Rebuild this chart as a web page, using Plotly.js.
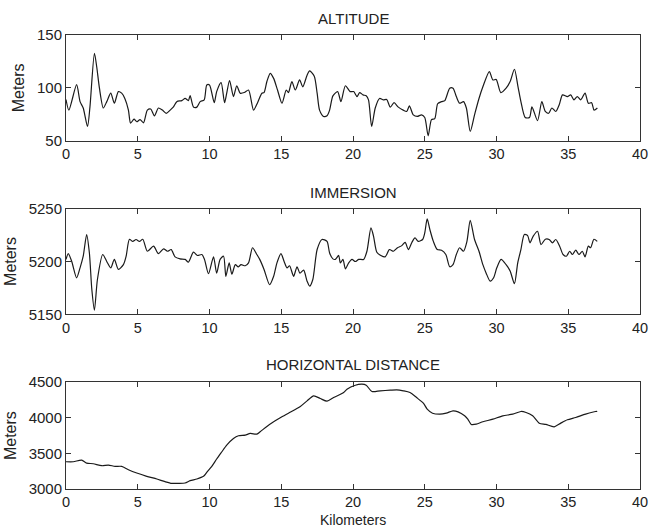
<!DOCTYPE html>
<html>
<head>
<meta charset="utf-8">
<script src="https://cdn.plot.ly/plotly-3.0.1.min.js"></script>
<style>html,body{margin:0;padding:0;background:#fff;}#chart{width:651px;height:527px;}</style>
</head>
<body>
<div id="chart"></div>
<script>
// ALTITUDE (km, meters)
const altKm = [0,0.2,0.74,0.98,1.2,1.5,1.67,1.98,2.14,2.33,2.6,2.84,3.12,3.37,3.65,3.88,4.1,4.35,4.5,4.74,4.93,5.16,5.4,5.67,5.9,6.16,6.44,6.72,6.98,7.26,7.49,7.72,8.07,8.3,8.53,8.65,8.88,9.12,9.35,9.63,9.81,10.0,10.33,10.5,10.81,11.05,11.2,11.4,11.67,11.9,12.14,12.42,12.72,13.07,13.35,13.65,13.8,14.0,14.23,14.47,14.74,15.05,15.35,15.5,15.74,15.98,16.28,16.5,16.8,16.98,17.3,17.5,17.67,17.95,18.19,18.37,18.6,18.93,19.16,19.47,19.8,20.05,20.28,20.46,20.7,20.92,21.08,21.3,21.55,21.85,22.12,22.35,22.6,22.86,23.16,23.5,23.74,23.93,24.2,24.48,24.78,25.0,25.24,25.47,25.7,25.9,26.17,26.4,26.74,26.97,27.2,27.43,27.7,27.9,28.17,28.47,28.78,29.05,29.5,29.75,29.98,30.3,30.67,30.95,31.25,31.5,31.7,32.0,32.3,32.47,32.86,33.16,33.4,33.63,33.86,34.13,34.37,34.6,34.94,35.17,35.4,35.63,35.87,36.17,36.4,36.63,36.8,37.03];
const altitude = [89,79,103,87,81,63.5,82,132.7,120,99.7,81,87,95,85.5,96.5,95,90,79,66.7,70.4,68,70,67,79,80,73.6,81,79,76,79,82,87,88,90,88,92.8,82,81.8,87,88.7,102.8,102.8,86,96.5,105,86,95,107,91.8,102,95,95.6,98,79,86,95,95.6,106,113.8,109,98,85.5,98,95.6,106,98,107.5,101,112,116,111,95,79,73,73.6,79,92.5,96.5,87,102,96.5,96.5,91.8,95.6,93.4,92.5,88.7,63.5,81,90,88.7,89,81.8,86,81.8,79,77.7,83,74.5,73,74.5,72,54.7,70,71,85,87,88,99.7,99.7,91.8,85.5,87,81,58.8,74.5,90,101,115.4,107.5,108,95.6,99.7,106,117.6,101,87,72,72,82,69,87,77.7,76,81,77.7,84,93.4,91.8,93.4,88.7,91.8,88.7,95,85.5,86,79,81];

// IMMERSION (km, meters)
const immKm = [0,0.16,0.4,0.74,0.98,1.2,1.44,1.63,1.8,1.98,2.19,2.56,2.84,3.12,3.37,3.65,4.0,4.19,4.42,4.65,4.88,5.12,5.35,5.67,6.1,6.44,6.8,7.07,7.33,7.6,7.95,8.3,8.53,8.88,9.16,9.47,9.65,9.93,10.28,10.5,10.74,10.98,11.14,11.37,11.56,11.8,12.0,12.2,12.49,12.72,13.0,13.3,13.5,13.8,14.19,14.47,14.7,14.98,15.2,15.4,15.58,15.86,16.1,16.3,16.56,16.8,16.98,17.2,17.5,17.84,18.19,18.37,18.6,18.77,19.0,19.12,19.3,19.47,19.7,19.93,20.16,20.4,20.74,20.97,21.25,21.43,21.66,21.94,22.24,22.54,22.82,23.1,23.4,23.63,23.86,24.1,24.32,24.55,24.85,25.0,25.17,25.36,25.6,25.87,26.17,26.47,26.74,26.97,27.2,27.43,27.7,27.94,28.17,28.47,28.78,29.05,29.28,29.56,29.8,30.02,30.32,30.67,30.95,31.25,31.48,31.7,31.94,32.17,32.33,32.56,32.86,33.1,33.4,33.67,33.9,34.13,34.4,34.64,34.87,35.1,35.29,35.52,35.75,35.98,36.17,36.4,36.56,36.79,37.02];
const immersion = [5202,5207.5,5200,5184.6,5194,5205,5225.5,5208,5173.6,5154,5183,5206.6,5200,5194,5202,5192.5,5197,5205,5221,5219,5220.8,5219,5221,5209.7,5214.5,5207.5,5212,5209.7,5211.3,5204.4,5202.5,5202,5199.4,5208.8,5205.7,5206.6,5202,5188.4,5204.4,5189,5202,5205,5186,5198.7,5188,5197,5195,5197,5196,5198.7,5213,5206.6,5202,5192.5,5178,5186,5198.7,5207.5,5200,5194,5196,5186,5195,5189,5191.8,5181.4,5176.7,5183,5211.3,5220.8,5219,5208,5202.5,5202,5205.7,5198.7,5202,5193,5198.7,5202,5200,5202,5202,5209.7,5231.8,5224,5208.8,5205.7,5204.4,5211.3,5209.7,5213,5215,5218,5211.3,5218,5222.3,5219,5220.8,5227,5240.3,5230,5219,5211.3,5210.7,5206.6,5195,5197,5206.6,5213,5209.7,5219,5239,5220.8,5209.7,5197,5189,5181.4,5184.6,5194,5202,5197,5191,5179,5198.7,5211.3,5225.5,5224.5,5217.6,5224,5228.6,5216,5221,5220.8,5217.6,5220.8,5214.5,5206.6,5205,5209.7,5206.6,5210.7,5206.6,5209.7,5204.4,5214.5,5213,5221,5219];

// HORIZONTAL DISTANCE (km, meters)
const hdKm = [0,0.51,1.09,1.44,1.9,2.49,2.95,3.42,3.88,4.35,4.93,5.63,6.33,6.9,7.37,7.84,8.3,8.65,9.12,9.58,9.81,10.16,10.5,10.86,11.2,11.67,12.02,12.49,12.84,13.3,13.53,14.0,14.47,14.93,15.5,16.33,16.8,17.26,17.72,18.19,18.65,19.35,19.58,20.16,20.62,20.92,21.32,21.9,22.59,23.05,23.51,23.97,24.43,24.9,25.17,25.54,26.05,26.5,26.97,27.32,27.78,28.0,28.24,28.59,29.05,29.75,30.44,31.13,31.7,32.06,32.52,32.98,33.44,34.02,34.48,34.94,35.52,36.21,36.9,37.02];
const horizDist = [3383,3383,3406,3364,3355,3327,3336,3318,3318,3271,3224,3178,3140,3103,3079,3079,3084,3117,3140,3178,3234,3318,3421,3523,3617,3710,3748,3757,3780,3771,3804,3879,3944,4000,4065,4159,4238,4308,4271,4234,4285,4355,4402,4458,4472,4458,4369,4379,4388,4393,4379,4355,4285,4206,4122,4065,4051,4065,4098,4084,4028,3981,3907,3911,3944,3981,4028,4051,4089,4075,4028,3925,3907,3874,3925,3972,4005,4051,4089,4089];

const panelTitles = ['ALTITUDE','IMMERSION','HORIZONTAL DISTANCE'];
const xTitle = 'Kilometers';
const yTitle = 'Meters';
const yRanges = [[50,150],[5150,5250],[3000,4500]];
const yTicks = [[50,100,150],[5150,5200,5250],[3000,3500,4000,4500]];
const xTicks = [0,5,10,15,20,25,30,35,40];

const FONT = 'Liberation Sans, Arial, Helvetica, sans-serif';
const lineStyle = {color:'#1a1a1a', width:1.2, shape:'spline', smoothing:0.7};

const traces = [
  {x: altKm, y: altitude, xaxis:'x', yaxis:'y', type:'scatter', mode:'lines', line: lineStyle},
  {x: immKm, y: immersion, xaxis:'x2', yaxis:'y2', type:'scatter', mode:'lines', line: lineStyle},
  {x: hdKm, y: horizDist, xaxis:'x3', yaxis:'y3', type:'scatter', mode:'lines', line: lineStyle}
];

function xax(anchor){
  return {anchor: anchor, range:[0,40], tickvals: xTicks, ticks:'inside', ticklen:5, tickcolor:'#333',
    showline:true, linecolor:'#333', linewidth:1, mirror:'ticks', showgrid:false, zeroline:false,
    tickfont:{family:FONT, size:14.5, color:'#222'}};
}
function yax(anchor, dom, i){
  return {anchor: anchor, domain: dom, range: yRanges[i], tickvals: yTicks[i], ticks:'inside', ticklen:5, tickcolor:'#333',
    showline:true, linecolor:'#333', linewidth:1, mirror:'ticks', showgrid:false, zeroline:false,
    tickfont:{family:FONT, size:15, color:'#222'},
    title:{text: yTitle, font:{family:FONT, size:16, color:'#222'}, standoff:8}};
}

const annFont = {family:FONT, size:15, color:'#222'};
const layout = {
  width:651, height:527,
  margin:{l:66, r:11, t:35, b:38},
  paper_bgcolor:'#fff', plot_bgcolor:'#fff',
  showlegend:false,
  xaxis: xax('y'),
  xaxis2: xax('y2'),
  xaxis3: xax('y3'),
  yaxis: yax('x', [0.767,1], 0),
  yaxis2: yax('x2', [0.3846,0.6176], 1),
  yaxis3: yax('x3', [0,0.2352], 2),
  annotations: [
    {text: panelTitles[0], xref:'paper', yref:'paper', x:0.5, y:1.037, showarrow:false, yanchor:'middle', font:annFont},
    {text: panelTitles[1], xref:'paper', yref:'paper', x:0.5, y:0.6527, showarrow:false, yanchor:'middle', font:annFont},
    {text: panelTitles[2], xref:'paper', yref:'paper', x:0.5, y:0.2747, showarrow:false, yanchor:'middle', font:annFont},
    {text: xTitle, xref:'paper', yref:'paper', x:0.5, y:-0.046, showarrow:false, yanchor:'top', font:{family:FONT, size:14, color:'#222'}}
  ]
};
Plotly.newPlot('chart', traces, layout, {staticPlot:true, displayModeBar:false});
</script>
</body>
</html>
